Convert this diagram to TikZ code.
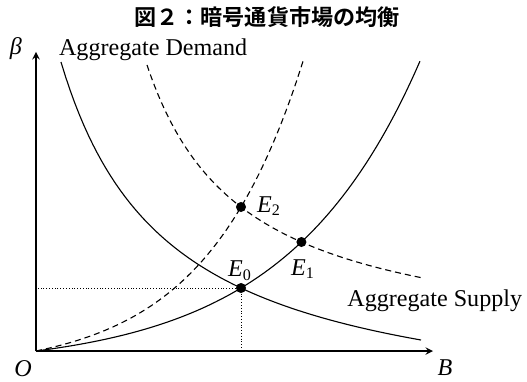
\documentclass[tikz,border=0pt]{standalone}
\usepackage{fontspec}
\setmainfont{Liberation Serif}
\newfontfamily\jpfont{Noto Sans CJK JP}[BoldFont={Noto Sans CJK JP Bold}]
\usetikzlibrary{intersections}
\tikzset{
  curve/.style={line width=0.55pt},
  shifted/.style={curve,dash pattern=on 3pt off 2pt},
}
\begin{document}
\begin{tikzpicture}[x=0.7cm,y=0.7cm,>=stealth,font=\fontsize{12}{14}\selectfont]
  \useasboundingbox (-0.9,-0.75) rectangle (12.275,8.775);
  \node[font=\jpfont\bfseries\fontsize{11}{13}\selectfont] (title) at (5.775,8.35) {図２：暗号通貨市場の均衡};
  % axes
  \coordinate (O) at (0,0);
  \coordinate (Bend) at (9.925,0);
  \coordinate (Yend) at (0,7.475);
  \draw[line width=0.65pt,->] (O) -- (Bend);
  \draw[line width=0.65pt,->] (O) -- (Yend);
  \node[anchor=base] (beta) at (-0.5,7.4) {\textit{β}};
  \node (orig) at (-0.325,-0.45) {\textit{O}};
  \node (bvar) at (10.225,-0.42) {\textit{B}};
  % demand and supply
  \draw[curve,name path=ad] plot[domain=0.625:9.625,samples=80] (\x,{24.28/(\x+2.065)-1.802});
  \draw[shifted,name path=adn] plot[domain=2.775:9.675,samples=80] (\x,{17.247/(\x-0.3726)-0.029});
  \draw[curve,name path=as] plot[domain=0:9.6,samples=80] (\x,{0.431*(exp(0.3*\x)-1)});
  \draw[shifted,name path=asn] plot[domain=0:6.675,samples=80] (\x,{0.5017*(exp(0.41*\x)-1)});
  \path[name intersections={of=ad and as,by=E0}];
  \path[name intersections={of=adn and as,by=E1}];
  \path[name intersections={of=adn and asn,by=E2}];
  \draw[densely dotted] (E0) -- (E0 -| O);
  \draw[densely dotted] (E0) -- (E0 |- O);
  \fill (E0) circle (2.5pt);
  \fill (E1) circle (2.5pt);
  \fill (E2) circle (2.5pt);
  \node[anchor=base] (lab0) at (5.1,1.86) {\textit{E}\textsubscript{0}};
  \node[anchor=base] (lab1) at (6.675,1.9) {\textit{E}\textsubscript{1}};
  \node[anchor=base west] (lab2) at (5.35,3.475) {\textit{E}\textsubscript{2}};
  \node[anchor=base west] (dlab) at (0.4,7.375) {Aggregate Demand};
  \node[anchor=base east] (slab) at (12.33,1.108) {Aggregate Supply};
\end{tikzpicture}
\end{document}
